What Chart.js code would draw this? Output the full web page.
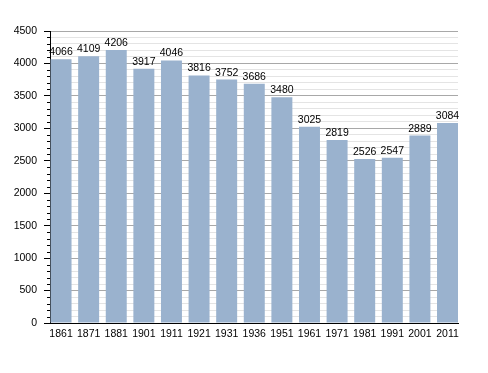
<!DOCTYPE html>
<html>
<head>
<meta charset="utf-8">
<script src="https://cdn.jsdelivr.net/npm/chart.js@4/dist/chart.umd.min.js"></script>
<style>
  html, body { margin: 0; padding: 0; background: #fff; }
  #wrap { width: 488px; height: 373px; }
</style>
</head>
<body>
<div id="wrap"><canvas id="myChart" width="488" height="373"></canvas></div>
<script>
// ===== data =====
const years = ['1861', '1871', '1881', '1901', '1911', '1921', '1931', '1936', '1951', '1961', '1971', '1981', '1991', '2001', '2011'];
const population = [4066, 4109, 4206, 3917, 4046, 3816, 3752, 3686, 3480, 3025, 2819, 2526, 2547, 2889, 3084];
const yMax = 4500;
const yStep = 100;
const yLabelStep = 500;

const FONT = '"Liberation Sans", Arial, sans-serif';
const FONT_SIZE = 10.5;

// 棒の上に値を描く + 補助目盛り
const valueLabels = {
  id: 'valueLabels',
  afterDatasetsDraw(chart) {
    const ctx = chart.ctx;
    const meta = chart.getDatasetMeta(0);
    ctx.save();
    ctx.font = FONT_SIZE + 'px ' + FONT;
    ctx.fillStyle = '#000';
    ctx.textAlign = 'center';
    ctx.textBaseline = 'alphabetic';
    meta.data.forEach((bar, i) => {
      ctx.fillText(String(population[i]), bar.x, bar.y - 4);
    });
    // minor ticks
    const y = chart.scales.y;
    ctx.strokeStyle = '#000';
    ctx.lineWidth = 1;
    ctx.beginPath();
    for (let v = 0; v <= yMax; v += yStep) {
      if (v % yLabelStep === 0) continue;
      const py = Math.round(y.getPixelForValue(v)) + 0.5;
      ctx.moveTo(y.right - 3, py);
      ctx.lineTo(y.right, py);
    }
    ctx.stroke();
    ctx.restore();
  }
};

const config = {
  type: 'bar',
  data: {
    datasets: [{
      data: population.map((v, i) => ({ x: i, y: v })),
      backgroundColor: 'rgb(154, 178, 206)',
      borderWidth: 0,
      categoryPercentage: 0.76,
      barPercentage: 1.0,
    }],
  },
  options: {
    responsive: false,
    animation: false,
    layout: { padding: { top: 31, right: 30, left: 0, bottom: 0 } },
    plugins: {
      legend: { display: false },
      tooltip: { enabled: false },
    },
    scales: {
      x: {
        type: 'linear',
        min: -0.4,
        max: 14.38,
        offset: false,
        grid: { display: false, drawTicks: false },
        border: { color: '#000', width: 1 },
        afterBuildTicks(axis) {
          axis.ticks = years.map((_, i) => ({ value: i }));
        },
        ticks: {
          color: '#000',
          padding: 5,
          maxRotation: 0,
          autoSkip: false,
          font: { family: FONT, size: FONT_SIZE },
          callback: v => years[v] ?? '',
        },
        afterFit(axis) { axis.height = 50; },
      },
      y: {
        min: 0,
        max: yMax,
        border: { color: '#000', width: 1 },
        grid: {
          color: c => (c.tick.value % yLabelStep === 0 ? '#a8a8a8' : '#e4e4e4'),
          tickColor: c => (c.tick.value % yLabelStep === 0 ? '#000' : 'rgba(0,0,0,0)'),
          tickLength: 6,
          lineWidth: 1,
        },
        ticks: {
          stepSize: yStep,
          autoSkip: false,
          color: '#000',
          padding: 7,
          font: { family: FONT, size: FONT_SIZE },
          callback: v => (v % yLabelStep === 0 ? String(v) : ''),
        },
        afterFit(axis) { axis.width = 50; },
      },
    },
  },
  plugins: [valueLabels],
};

new Chart(document.getElementById('myChart'), config);
</script>
</body>
</html>
